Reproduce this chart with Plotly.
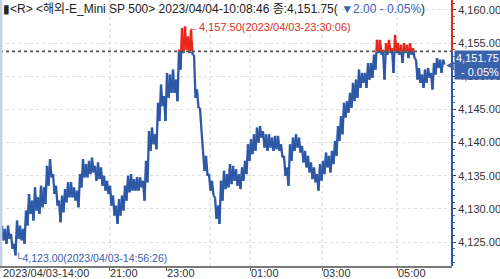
import numpy as np
import plotly.graph_objects as go

# ---------------- data ----------------
ref_price = 4153.75          # previous close (dotted reference line)

# per-column high / low of the tick line, left -> right
hi = [
    4127.5, 4127.0, 4127.5, 4126.25, 4124.75, 4128.25, 4127.5, 4127.0, 4129.75, 4132.25,
    4131.25, 4133.25, 4131.75, 4133.5, 4133.25, 4136.5, 4137.5, 4135.25, 4133.5, 4131.25,
    4132.0, 4133.0, 4134.0, 4134.0, 4133.25, 4132.75, 4135.25, 4137.5, 4136.75, 4137.25,
    4137.75, 4136.5, 4137.0, 4136.25, 4135.0, 4134.25, 4133.5, 4132.0, 4130.5, 4131.5,
    4132.0, 4133.5, 4135.0, 4135.25, 4134.5, 4134.75, 4134.75, 4134.25, 4137.25, 4141.75,
    4142.25, 4141.25, 4146.0, 4148.75, 4147.0, 4150.5, 4150.25, 4151.0, 4149.5, 4154.0,
    4157.25, 4157.5, 4156.0, 4157.0, 4153.25, 4148.0, 4145.25, 4138.75, 4138.0, 4135.25,
    4134.25, 4131.75, 4130.5, 4134.25, 4135.75, 4135.25, 4136.75, 4136.5, 4136.0, 4135.25,
    4136.25, 4137.25, 4139.75, 4140.5, 4141.25, 4142.25, 4142.5, 4141.75, 4141.25, 4141.25,
    4140.75, 4141.0, 4141.0, 4139.75, 4138.0, 4136.25, 4139.75, 4140.75, 4141.25, 4140.75,
    4139.5, 4138.75, 4138.0, 4137.0, 4136.25, 4135.25, 4136.75, 4137.25, 4138.5, 4138.0,
    4138.75, 4140.25, 4142.5, 4144.0, 4146.0, 4146.25, 4147.5, 4149.0, 4149.5, 4151.0,
    4150.5, 4150.5, 4152.0, 4152.0, 4153.25, 4155.5, 4155.5, 4154.0, 4155.0, 4155.5,
    4154.25, 4156.25, 4155.0, 4154.75, 4155.0, 4154.75, 4155.0, 4154.25, 4152.5, 4151.25,
    4150.25, 4151.0, 4151.25, 4150.5, 4152.0, 4152.75, 4152.5, 4152.5,
]
lo = [
    4125.25, 4124.75, 4125.5, 4124.0, 4123.0, 4125.5, 4125.25, 4124.75, 4127.5, 4129.25,
    4128.25, 4129.75, 4129.25, 4130.25, 4130.75, 4133.5, 4134.75, 4132.25, 4130.5, 4128.0,
    4129.5, 4131.0, 4131.75, 4131.75, 4131.25, 4130.25, 4133.25, 4134.75, 4134.75, 4135.25,
    4135.5, 4134.25, 4134.5, 4133.5, 4132.75, 4132.25, 4130.5, 4129.0, 4127.75, 4129.0,
    4129.75, 4131.25, 4132.5, 4132.75, 4132.75, 4132.75, 4133.25, 4131.25, 4134.0, 4138.75,
    4139.75, 4139.0, 4143.25, 4145.5, 4143.25, 4146.75, 4147.5, 4147.5, 4146.25, 4151.0,
    4153.5, 4154.0, 4153.5, 4153.25, 4146.75, 4145.25, 4141.75, 4135.75, 4135.0, 4132.75,
    4132.0, 4128.5, 4127.75, 4131.25, 4133.0, 4133.25, 4133.75, 4134.25, 4133.5, 4133.0,
    4134.25, 4135.25, 4137.25, 4138.25, 4138.75, 4140.0, 4140.75, 4139.25, 4138.75, 4139.25,
    4138.75, 4139.0, 4138.75, 4137.75, 4135.0, 4133.5, 4137.25, 4138.75, 4139.25, 4138.5,
    4137.0, 4136.25, 4135.5, 4134.5, 4134.0, 4132.75, 4134.25, 4135.25, 4136.25, 4135.5,
    4136.75, 4138.0, 4140.25, 4141.25, 4143.75, 4144.5, 4145.25, 4146.25, 4146.75, 4148.25,
    4149.0, 4148.25, 4149.5, 4149.75, 4151.0, 4153.5, 4153.25, 4149.5, 4153.25, 4153.5,
    4150.5, 4153.5, 4153.25, 4152.0, 4153.5, 4152.75, 4153.25, 4152.75, 4149.5, 4149.0,
    4148.25, 4149.0, 4149.75, 4148.0, 4150.25, 4151.25, 4150.5, 4151.75,
]

# time labels and the column (tick sequence) where each falls
time_labels = ["2023/04/03-14:00", "21:00", "23:00", "01:00", "03:00", "05:00"]
time_cols = [0.0, 35.67, 54.67, 82.67, 106.67, 131.67]
grid_cols = [36.0, 69.33, 82.67, 106.67, 131.67]

y_ticks = [4125, 4130, 4135, 4140, 4145, 4150, 4155, 4160]

max_text_time = "2023/04/03-23:30:06"
min_text_time = "2023/04/03-14:56:26"
header_time = "2023/04/04-10:08:46"
symbol_name = "해외-E_Mini SP 500"

# ---------------- build zig-zag line ----------------
n = len(hi)
xs = np.empty(2 * n)
ys = np.empty(2 * n)
xs[0::2] = np.arange(n)
xs[1::2] = np.arange(n) + 0.5
ys[0::2] = hi
ys[1::2] = lo


def clip_line(x, y, level, above):
    ox, oy = [], []
    for k in range(len(x) - 1):
        x0, y0, x1, y1 = x[k], y[k], x[k + 1], y[k + 1]
        a0 = (y0 >= level) if above else (y0 <= level)
        a1 = (y1 >= level) if above else (y1 <= level)
        if not a0 and not a1:
            continue
        if a0 and a1:
            ox += [x0, x1, None]
            oy += [y0, y1, None]
        else:
            t = (level - y0) / (y1 - y0)
            xc = x0 + t * (x1 - x0)
            if a0:
                ox += [x0, xc, None]
                oy += [y0, level, None]
            else:
                ox += [xc, x1, None]
                oy += [level, y1, None]
    return ox, oy


BLUE = "#2d58a6"
RED = "#e8281c"
FONT = "Liberation Sans, Noto Sans CJK KR, sans-serif"

bx, by = clip_line(xs, ys, ref_price, above=False)
rx, ry = clip_line(xs, ys, ref_price, above=True)

fig = go.Figure()
fig.add_trace(go.Scatter(x=bx, y=by, mode="lines", line=dict(color=BLUE, width=2.3),
                         connectgaps=False, hoverinfo="skip", showlegend=False))
fig.add_trace(go.Scatter(x=rx, y=ry, mode="lines", line=dict(color=RED, width=2.3),
                         connectgaps=False, hoverinfo="skip", showlegend=False))

y_range = [4121.4, 4161.5]
x_range = [-0.67, 150.0]

# reference line
fig.add_hline(y=ref_price, line=dict(color="#555555", width=1.8, dash="dot"))

# vertical dotted grid
for gc in grid_cols:
    fig.add_shape(type="line", xref="x", yref="paper", x0=gc, x1=gc, y0=0, y1=1,
                  line=dict(color="#d4d4d4", width=1, dash="dot"), layer="below")

# right axis line: red above reference, blue below
fig.add_shape(type="line", xref="paper", yref="y", x0=1, x1=1, y0=ref_price, y1=y_range[1],
              line=dict(color=RED, width=2))
fig.add_shape(type="line", xref="paper", yref="y", x0=1, x1=1, y0=y_range[0], y1=ref_price,
              line=dict(color=BLUE, width=2))
# left border strip
fig.add_shape(type="line", xref="paper", yref="paper", x0=0.002, x1=0.002, y0=0, y1=1,
              line=dict(color="#c5d2e6", width=3))

# x time labels
for lab, c in zip(time_labels, time_cols):
    fig.add_annotation(x=c, y=0, xref="x", yref="paper", text=lab, showarrow=False,
                       xanchor="left", yanchor="top", yshift=1, xshift=-1,
                       font=dict(family=FONT, size=11, color="#333333"))

# max / min annotations
imax = int(np.argmax(hi))
imin = int(np.argmin(lo))
fig.add_annotation(x=xs[2 * imax], y=hi[imax], xref="x", yref="y",
                   text=f"←{hi[imax]:,.2f}({max_text_time})", showarrow=False,
                   xanchor="left", yanchor="middle", xshift=1,
                   font=dict(family=FONT, size=11, color="#e0301e"))
fig.add_annotation(x=xs[2 * imin + 1], y=lo[imin], xref="x", yref="y",
                   text=f"└{lo[imin]:,.2f}({min_text_time})", showarrow=False,
                   xanchor="left", yanchor="middle", xshift=-3, yshift=-3,
                   font=dict(family=FONT, size=10.5, color="#3a5cb0"))

# header
last = lo[-1]
chg = last - ref_price
pct = chg / ref_price * 100
arrow = "▼" if chg < 0 else "▲"
sign = "-" if chg < 0 else "+"
header = (f"▮&lt;R&gt; &lt;{symbol_name}&gt; {header_time} 종:{last:,.2f}( "
          f"<span style='color:#3a62c4'>{arrow}{abs(chg):.2f} {sign} {abs(pct):.2f}%</span>)")
fig.add_annotation(x=0, y=1, xref="paper", yref="paper", text=header, showarrow=False,
                   xanchor="left", yanchor="top", xshift=1, yshift=0,
                   font=dict(family=FONT, size=12, color="#222222"))

# current price box
fig.add_annotation(x=1, y=last, xref="paper", yref="y",
                   text=f"{last:,.2f}<br>{sign} {abs(pct):.2f}%", showarrow=False,
                   xanchor="left", yanchor="middle", xshift=2, align="right",
                   bgcolor="#3b62ad", borderpad=1,
                   font=dict(family=FONT, size=11, color="white"))
fig.add_annotation(x=1, y=last, xref="paper", yref="y", text="◀", showarrow=False,
                   xanchor="right", yanchor="middle", xshift=4,
                   font=dict(family="DejaVu Sans", size=10, color="#3b62ad"))

fig.update_layout(
    width=500, height=279,
    margin=dict(l=0, r=48, t=0, b=13),
    paper_bgcolor="white", plot_bgcolor="white",
    showlegend=False,
    xaxis=dict(range=x_range, showgrid=False, zeroline=False,
               tickvals=time_cols[1:], ticktext=[""] * (len(time_cols) - 1),
               ticks="outside", ticklen=3, tickcolor="#555555",
               showline=True, linecolor="#7a7a7a", linewidth=2),
    yaxis=dict(range=y_range, side="right", tickvals=y_ticks,
               ticktext=[f"{v:,.2f}" for v in y_ticks],
               showgrid=True, gridcolor="#dedede", griddash="dot", gridwidth=1,
               zeroline=False, ticks="outside", ticklen=3, tickcolor="#444444",
               showline=False,
               minor=dict(dtick=1, ticks="outside", ticklen=2, tickcolor="#666666", showgrid=False),
               tickfont=dict(family=FONT, size=11, color="#333333")),
)

fig.write_html("out.html")
